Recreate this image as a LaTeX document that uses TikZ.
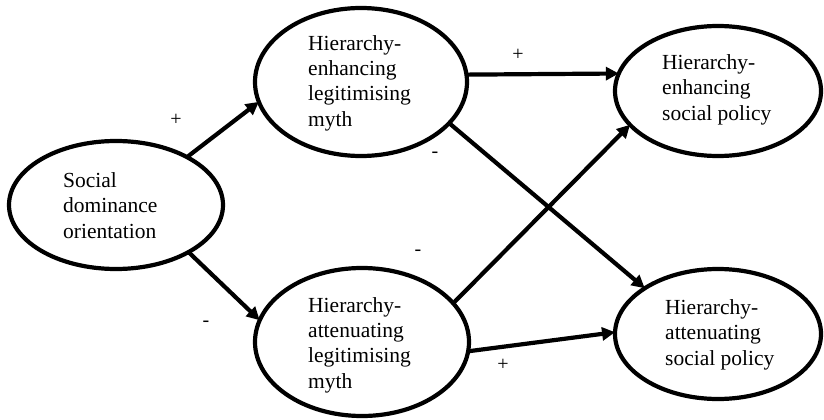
\documentclass[tikz,border=0pt]{standalone}
\usepackage{fontspec}
\setmainfont{Liberation Serif}
\usetikzlibrary{shapes.geometric,arrows.meta}
\begin{document}
\begin{tikzpicture}[x=1pt,y=-1pt,
  oval/.style={draw,ellipse,line width=4.2pt,inner sep=0pt,outer sep=0pt},
  lbl/.style={align=left,anchor=base west,inner sep=0pt,font=\fontsize{21.5}{25.2}\selectfont},
  sign/.style={inner sep=0pt,font=\fontsize{20}{24}\selectfont},
  link/.style={line width=4.2pt,-{Triangle[length=13pt,width=13pt]}}]
\useasboundingbox (0,0) rectangle (824,420);
\node[oval,minimum width=214pt,minimum height=128pt] (sdo) at (116,205) {};
\node[oval,minimum width=212pt,minimum height=148pt] (hem) at (361,82) {};
\node[oval,minimum width=214pt,minimum height=148pt] (ham) at (362,342) {};
\node[oval,minimum width=206pt,minimum height=130pt] (hep) at (718,91) {};
\node[oval,minimum width=206pt,minimum height=130pt] (hap) at (718,334) {};
\node[lbl] (tsdo) at (63,238) {Social\\dominance\\orientation};
\node[lbl] (them) at (308,126) {Hierarchy-\\enhancing\\legitimising\\myth};
\node[lbl] (tham) at (308,388) {Hierarchy-\\attenuating\\legitimising\\myth};
\node[lbl] (thep) at (662,120) {Hierarchy-\\enhancing\\social policy};
\node[lbl] (thap) at (665,365) {Hierarchy-\\attenuating\\social policy};
\draw[link] (sdo.34) -- (hem.191.5);
\draw[link] (sdo.-33) -- (ham.168.4);
\draw[link] (hem.4) -- (hep.170.8);
\draw[link] (hem.-25.8) -- (hap.148);
\draw[link] (ham.23.4) -- (hep.201.8);
\draw[link] (ham.-5.4) -- (hap.179.5);
\node[sign] (s1) at (176,120) {+};
\node[sign] (s2) at (435,155) {-};
\node[sign] (s3) at (518,55) {+};
\node[sign] (s4) at (418,253) {-};
\node[sign] (s5) at (206,324) {-};
\node[sign] (s6) at (503,365) {+};
\end{tikzpicture}
\end{document}
